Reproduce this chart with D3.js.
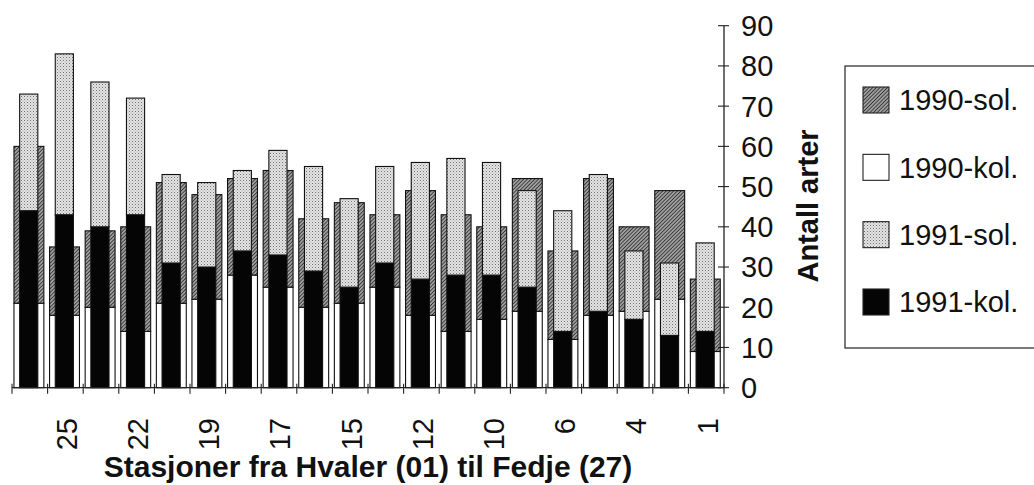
<!DOCTYPE html>
<html>
<head>
<meta charset="utf-8">
<script src="https://cdn.jsdelivr.net/npm/d3@7"></script>
<style>
  html, body { margin: 0; padding: 0; background: #fff; }
  svg { display: block; font-family: "Liberation Sans", Arial, Helvetica, sans-serif; }
</style>
</head>
<body>
<svg id="chart" width="1034" height="485"></svg>
<script>
// Stations (left = Fedje side, right = Hvaler side); only some are labelled on the axis
const stations = ["27","25","24","22","21","19","18","17","16","15","14","12","11","10","8","6","5","4","3","1"];
const shownTicks = ["25","22","19","17","15","12","10","6","4","1"];

// Number of species (Antall arter), stacked: kol at bottom, sol on top
const kol1990 = [21,18,20,14,21,22,28,25,20,21,25,18,14,17,19,12,18,19,22,9];
const sol1990 = [39,17,19,26,30,26,24,29,22,25,18,31,29,23,33,22,34,21,27,18];
const kol1991 = [44,43,40,43,31,30,34,33,29,25,31,27,28,28,25,14,19,17,13,14];
const sol1991 = [29,40,36,29,22,21,20,26,26,22,24,29,29,28,24,30,34,17,18,22];

const yTicks = [0,10,20,30,40,50,60,70,80,90];
const legendLabels = ["1990-sol.","1990-kol.","1991-sol.","1991-kol."];

const svg = d3.select("#chart");
const defs = svg.append("defs");

// hatch for 1990-sol
const hatch = defs.append("pattern").attr("id","hatch")
  .attr("patternUnits","userSpaceOnUse").attr("width",2.6).attr("height",2.6)
  .attr("patternTransform","rotate(45)");
hatch.append("rect").attr("width",2.6).attr("height",2.6).attr("fill","#a0a0a0");
hatch.append("line").attr("x1",0).attr("y1",0).attr("x2",0).attr("y2",2.6)
  .attr("stroke","#222").attr("stroke-width",1.5);

// stipple for 1991-sol
const dots = defs.append("pattern").attr("id","dots")
  .attr("patternUnits","userSpaceOnUse").attr("width",3).attr("height",3);
dots.append("rect").attr("width",3).attr("height",3).attr("fill","#e4e4e4");
dots.append("rect").attr("x",0).attr("y",0).attr("width",1).attr("height",1).attr("fill","#707070");
dots.append("rect").attr("x",1.5).attr("y",1.5).attr("width",1).attr("height",1).attr("fill","#a0a0a0");

const x = d3.scaleBand().domain(stations).range([12, 724]).padding(0);
const y = d3.scaleLinear().domain([0, 90]).range([387.7, 25.7]);
const bw = x.bandwidth();

const fills = { sol1990: "url(#hatch)", kol1990: "#ffffff", sol1991: "url(#dots)", kol1991: "#050505" };

const rows1990 = stations.map((s,i) => ({station: s, kol: kol1990[i], sol: sol1990[i]}));
const rows1991 = stations.map((s,i) => ({station: s, kol: kol1991[i], sol: sol1991[i]}));
const stack = d3.stack().keys(["kol","sol"]);
const st1990 = stack(rows1990);
const st1991 = stack(rows1991);

// back bars (1990)
const gBack = svg.append("g");
st1990.forEach(layer => {
  gBack.selectAll(null).data(layer).join("rect")
    .attr("x", d => x(d.data.station) + bw*0.055)
    .attr("width", bw*0.84)
    .attr("y", d => y(d[1]))
    .attr("height", d => y(d[0]) - y(d[1]))
    .attr("fill", layer.key === "kol" ? fills.kol1990 : fills.sol1990)
    .attr("stroke", "#111").attr("stroke-width", 1.1);
});

// front bars (1991)
const gFront = svg.append("g");
st1991.forEach(layer => {
  gFront.selectAll(null).data(layer).join("rect")
    .attr("x", d => x(d.data.station) + bw*0.215)
    .attr("width", bw*0.51)
    .attr("y", d => y(d[1]))
    .attr("height", d => y(d[0]) - y(d[1]))
    .attr("fill", layer.key === "kol" ? fills.kol1991 : fills.sol1991)
    .attr("stroke", "#111").attr("stroke-width", 1.1);
});

// x axis
const gx = svg.append("g");
gx.append("line").attr("x1", 12).attr("x2", 724).attr("y1", y(0)).attr("y2", y(0))
  .attr("stroke", "#222").attr("stroke-width", 1.3);
const bounds = stations.map(s => x(s)).concat([x.range()[1]]);
gx.selectAll("line.tk").data(bounds).join("line").attr("class","tk")
  .attr("x1", d => d).attr("x2", d => d)
  .attr("y1", y(0) - 4).attr("y2", y(0) + 6)
  .attr("stroke", "#222").attr("stroke-width", 1.1);
gx.selectAll("text").data(stations.filter(s => shownTicks.includes(s))).join("text")
  .attr("transform", d => `translate(${x(d) + bw/2 + 1},418) rotate(-90)`)
  .attr("text-anchor", "end").attr("dy", "0.36em")
  .attr("font-size", 29).attr("fill", "#111")
  .text(d => d);

// y axis (right)
const gy = svg.append("g");
gy.append("line").attr("x1", 724).attr("x2", 724).attr("y1", y(0)).attr("y2", y(90))
  .attr("stroke", "#222").attr("stroke-width", 1.3);
gy.selectAll("line.tk").data(yTicks).join("line").attr("class","tk")
  .attr("x1", 718).attr("x2", 729)
  .attr("y1", d => y(d)).attr("y2", d => y(d))
  .attr("stroke", "#222").attr("stroke-width", 1.1);
gy.selectAll("text").data(yTicks).join("text")
  .attr("x", 741).attr("y", d => y(d)).attr("dy", "0.36em")
  .attr("font-size", 29).attr("fill", "#111")
  .text(d => d);

// y axis title
svg.append("text")
  .attr("transform", "translate(808,206) rotate(-90)")
  .attr("text-anchor", "middle").attr("dy", "0.36em")
  .attr("font-size", 29).attr("font-weight", "bold").attr("fill", "#111")
  .text("Antall arter");

// x axis title
svg.append("text")
  .attr("x", 368).attr("y", 477)
  .attr("text-anchor", "middle")
  .attr("font-size", 30).attr("font-weight", "bold").attr("fill", "#111")
  .text("Stasjoner fra Hvaler (01) til Fedje (27)");

// legend
const lg = svg.append("g");
lg.append("rect").attr("x", 845).attr("y", 66).attr("width", 200).attr("height", 282)
  .attr("fill", "#fff").attr("stroke", "#222").attr("stroke-width", 1.2);
const legendFills = [fills.sol1990, fills.kol1990, fills.sol1991, fills.kol1991];
const ly = d3.scalePoint().domain(legendLabels).range([100, 302]);
lg.selectAll("rect.sw").data(legendLabels).join("rect").attr("class","sw")
  .attr("x", 863).attr("y", d => ly(d) - 13).attr("width", 26).attr("height", 26)
  .attr("fill", (d,i) => legendFills[i]).attr("stroke", "#222").attr("stroke-width", 1.1);
lg.selectAll("text").data(legendLabels).join("text")
  .attr("x", 899).attr("y", d => ly(d)).attr("dy", "0.36em")
  .attr("font-size", 29).attr("fill", "#111")
  .text(d => d);
</script>
</body>
</html>
